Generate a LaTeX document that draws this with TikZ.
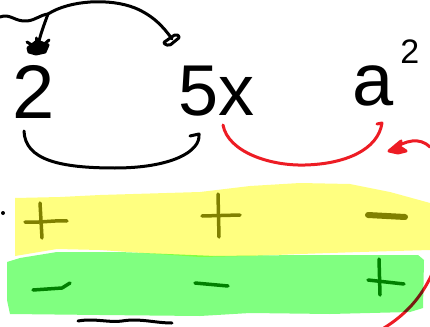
\documentclass[tikz,border=0pt]{standalone}
\usepackage{fontspec}
\setmainfont{Liberation Sans}
\usetikzlibrary{arrows.meta}
\definecolor{sketchred}{RGB}{237,28,36}
\definecolor{hlyellow}{RGB}{255,255,128}
\definecolor{hlgreen}{RGB}{128,255,128}
\definecolor{signolive}{RGB}{128,128,0}
\definecolor{signgreen}{RGB}{0,128,0}
\begin{document}
\begin{tikzpicture}[x=1pt,y=-1pt,
  pen/.style={line width=3pt, line cap=round, line join=round, draw=black},
  redpen/.style={line width=3pt, line cap=round, line join=round, draw=sketchred},
  olivesign/.style={line width=3.5pt, line cap=round, line join=round, draw=signolive},
  greensign/.style={line width=3.5pt, line cap=round, line join=round, draw=signgreen},
  term/.style={inner sep=0pt, anchor=base west, font=\fontsize{76}{80}\selectfont}
]
\useasboundingbox (0,0) rectangle (430,326);
\fill[white] (0,0) rectangle (430,326);

% terms
\node[term] (two) at (12,118) {2};
\node[term, font=\fontsize{72}{76}\selectfont] (fivex) at (178,115) {5x};
\node[term, font=\fontsize{74}{78}\selectfont] (asq) at (352,106) {a\hspace{7pt}\raisebox{42pt}{\fontsize{34}{36}\selectfont 2}};

% top double arrow
\coordinate (tail) at (0,17);
\coordinate (j) at (48,14);
\coordinate (twotop) at (38,46);
\coordinate (fivetop) at (172,39);
\draw[pen] (tail) .. controls (10,13) and (15,22) .. (27,21) .. controls (36,20) and (40,15) .. (j);
\draw[pen] (j) .. controls (44,25) and (40,35) .. (twotop);
\draw[pen] (j) .. controls (70,0) and (110,-2) .. (135,8) .. controls (152,15) and (163,26) .. (fivetop);
% hand-drawn heads
\filldraw[pen, fill=black] (28,48) -- (37,41) -- (48,45) -- (45,52) -- (36,54) -- (29,52) -- cycle;
\draw[pen] (27,42) -- (35,47); \draw[pen] (49,40) -- (41,47); \draw[pen] (36,38) -- (36,44);
\draw[pen, rounded corners=2pt] (163,43) -- (176,34) -- (180,37) -- (169,46) -- cycle;

% black arc under 2 and 5
\coordinate (arcL) at (24,131);
\coordinate (arcR) at (199,134);
\draw[pen] (arcL) .. controls (25,160) and (60,168) .. (115,168) .. controls (170,168) and (201,152) .. (arcR) -- (190,136);

% red arc under 5x and a^2
\coordinate (redL) at (223,125);
\coordinate (redR) at (382,123);
\draw[redpen] (redL) .. controls (228,152) and (270,166) .. (305,165) .. controls (345,164) and (378,150) .. (redR) -- (377,124);

% red arrow from the right
\coordinate (rstart) at (430,147);
\coordinate (rend) at (392,150);
\draw[redpen] (rstart) .. controls (420,137) and (405,140) .. (rend);
\filldraw[redpen, fill=sketchred] (389,151) -- (401,141) -- (400,147) -- (406,151) -- (398,153) -- cycle;

% red arc bottom right (behind highlights)
\draw[redpen] (432,274) .. controls (421,298) and (405,315) .. (384,328);

% bottom black stroke
\draw[pen] (78,321) .. controls (95,318) and (110,323) .. (122,321) .. controls (140,318) and (155,323) .. (172,323);

% dot
\fill (3,213) circle (2pt);

% highlight bands
\begin{scope}[blend mode=multiply]
\fill[hlyellow] (15,198) -- (60,197) -- (100,195) -- (200,192) -- (250,186) -- (300,183) -- (350,184) -- (390,192) -- (430,203) -- (430,250) -- (360,252) -- (300,254) -- (250,256) -- (200,257) -- (100,250) -- (57,249) -- (15,256) -- cycle;
\fill[hlgreen] (7,262) -- (20,258) -- (57,252) -- (120,252) -- (215,256) -- (300,255) -- (418,255) -- (424,260) -- (423,308) -- (410,312) -- (330,314) -- (250,313) -- (200,316) -- (100,315) -- (10,314) -- (7,300) -- cycle;
\end{scope}

% signs
\draw[olivesign] (40,203) -- (42,238);
\draw[olivesign] (25,222) .. controls (40,223) and (55,220) .. (67,221);
\draw[olivesign] (218,194) -- (219,237);
\draw[olivesign] (202,216) -- (240,215);
\draw[olivesign, line width=6pt] (368,215) -- (405,217);

\draw[greensign] (33,290) -- (62,288) -- (70,283);
\draw[greensign] (195,283) -- (228,286);
\draw[greensign] (379,259) -- (380,295);
\draw[greensign] (368,280) -- (404,284);
\end{tikzpicture}
\end{document}
